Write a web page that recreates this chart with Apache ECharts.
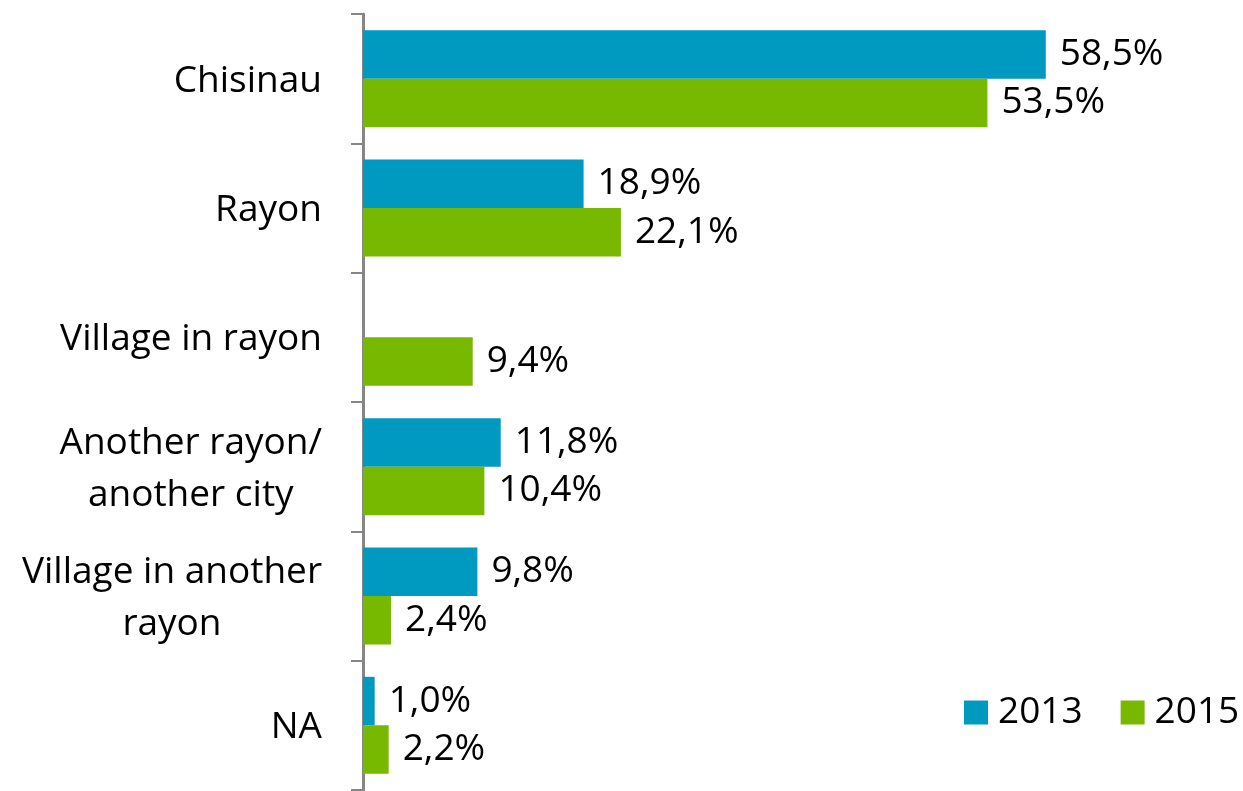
<!DOCTYPE html>
<html>
<head>
<meta charset="utf-8">
<script src="https://cdn.jsdelivr.net/npm/echarts@6/dist/echarts.min.js"></script>
<style>
html,body{margin:0;padding:0;background:#fff;}
#chart{width:1243px;height:791px;}
</style>
</head>
<body>
<div id="chart"></div>
<script>
const categories = ['Chisinau', 'Rayon', 'Village in rayon', 'Another rayon/\nanother city', 'Village in another\nrayon', 'NA'];
const seriesNames = ['2013', '2015'];
const values2013 = [58.5, 18.9, null, 11.8, 9.8, 1.0];
const values2015 = [53.5, 22.1, 9.4, 10.4, 2.4, 2.2];

const FONT = '"Open Sans", sans-serif';
const fmt = p => (p.value == null ? '' : p.value.toFixed(1).replace('.', ',') + '%');

const chart = echarts.init(document.getElementById('chart'), null, {renderer: 'canvas'});
chart.setOption({
  animation: false,
  backgroundColor: '#ffffff',
  grid: {left: 363, right: 63, top: 14, bottom: 1, containLabel: false},
  xAxis: {
    type: 'value', min: 0, max: 70, show: false
  },
  yAxis: {
    type: 'category',
    data: categories,
    inverse: true,
    axisLine: {show: true, lineStyle: {color: '#868686', width: 3}},
    axisTick: {show: true, length: 12, lineStyle: {color: '#868686', width: 2}},
    axisLabel: {
      margin: 41,
      color: '#000',
      fontFamily: FONT,
      fontSize: 37,
      padding: [5, 0, 0, 0],
      formatter: v => v.split('\n').map(l => '{c|' + l + '}').join('\n'),
      rich: {c: {align: 'center', fontFamily: FONT, fontSize: 37, color: '#000', lineHeight: 52}}
    },
    splitLine: {show: false}
  },
  legend: {
    data: seriesNames,
    left: 964, top: 694, padding: 0,
    itemWidth: 24, itemHeight: 24, itemGap: 38,
    icon: 'rect',
    textStyle: {fontFamily: FONT, fontSize: 37, color: '#000', padding: [0, 0, 0, 5]}
  },
  series: [
    {
      name: seriesNames[0], type: 'bar', data: values2013,
      itemStyle: {color: '#0099C0'},
      barGap: '0%', barCategoryGap: '25%',
      label: {show: true, position: 'right', distance: 14, padding: [4, 0, 0, 0], formatter: fmt, fontFamily: FONT, fontSize: 37, color: '#000'}
    },
    {
      name: seriesNames[1], type: 'bar', data: values2015,
      itemStyle: {color: '#77B900'},
      barGap: '0%', barCategoryGap: '25%',
      label: {show: true, position: 'right', distance: 14, padding: [4, 0, 0, 0], formatter: fmt, fontFamily: FONT, fontSize: 37, color: '#000'}
    }
  ]
});
</script>
</body>
</html>
